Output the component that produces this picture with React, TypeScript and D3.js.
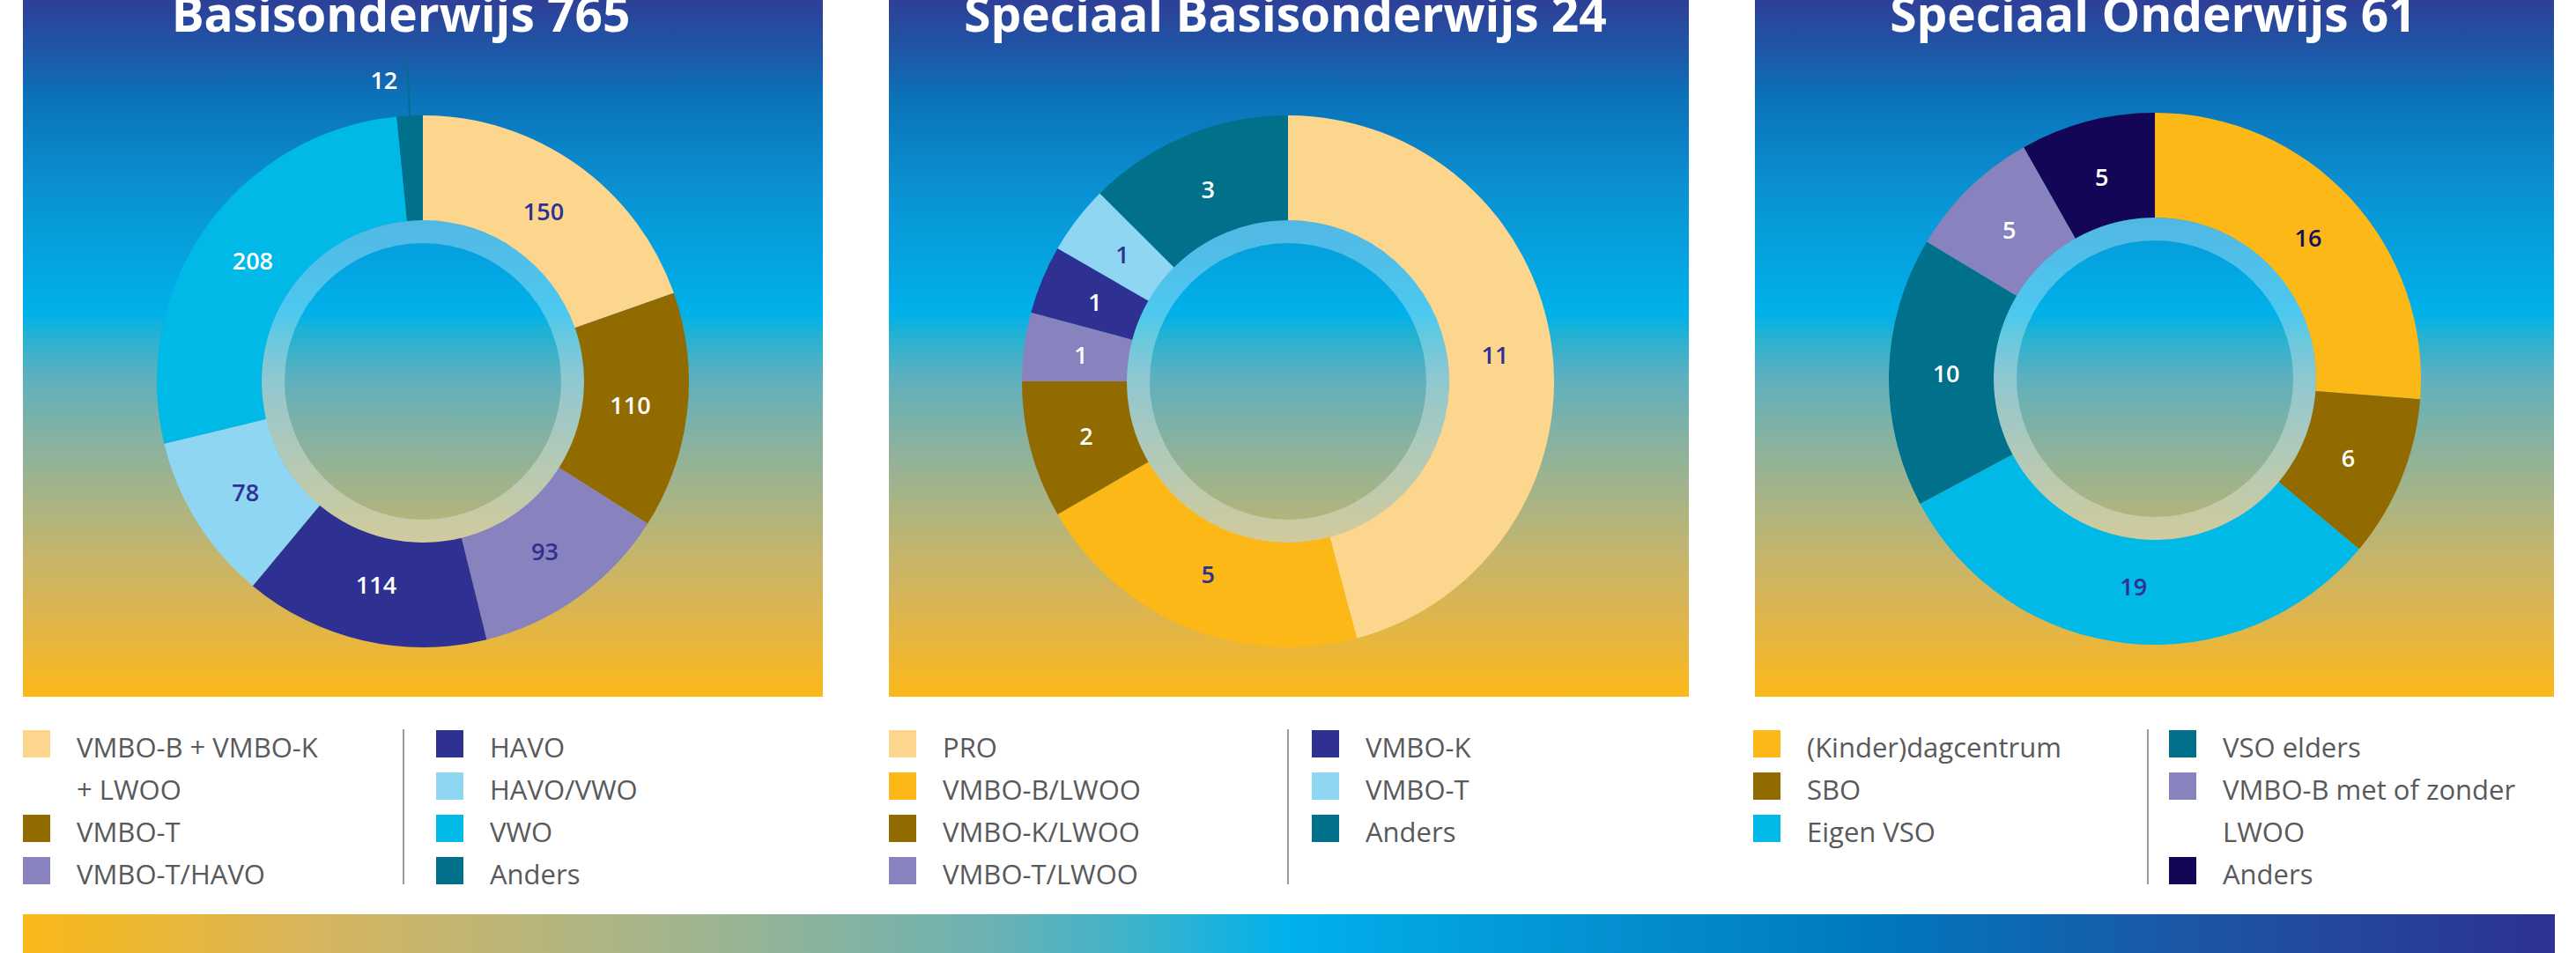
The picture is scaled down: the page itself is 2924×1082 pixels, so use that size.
import React from 'react';
import * as d3 from 'd3';

// ---------- DATA ----------
const basisTitle = 'Basisonderwijs 765';
const basisCategories = ['VMBO-B + VMBO-K + LWOO', 'VMBO-T', 'VMBO-T/HAVO', 'HAVO', 'HAVO/VWO', 'VWO', 'Anders'];
const basisValues = [150, 110, 93, 114, 78, 208, 12];
const basisLegend = [
  [['VMBO-B + VMBO-K', '+ LWOO'], ['VMBO-T'], ['VMBO-T/HAVO']],
  [['HAVO'], ['HAVO/VWO'], ['VWO'], ['Anders']],
];

const sboTitle = 'Speciaal Basisonderwijs 24';
const sboCategories = ['PRO', 'VMBO-B/LWOO', 'VMBO-K/LWOO', 'VMBO-T/LWOO', 'VMBO-K', 'VMBO-T', 'Anders'];
const sboValues = [11, 5, 2, 1, 1, 1, 3];
const sboLegend = [
  [['PRO'], ['VMBO-B/LWOO'], ['VMBO-K/LWOO'], ['VMBO-T/LWOO']],
  [['VMBO-K'], ['VMBO-T'], ['Anders']],
];

const soTitle = 'Speciaal Onderwijs 61';
const soCategories = ['(Kinder)dagcentrum', 'SBO', 'Eigen VSO', 'VSO elders', 'VMBO-B met of zonder LWOO', 'Anders'];
const soValues = [16, 6, 19, 10, 5, 5];
const soLegend = [
  [['(Kinder)dagcentrum'], ['SBO'], ['Eigen VSO']],
  [['VSO elders'], ['VMBO-B met of zonder', 'LWOO'], ['Anders']],
];

// ---------- STYLES ----------
const C = {
  lightOrange: '#fdd68e',
  brown: '#926b00',
  lavender: '#8882be',
  navy: '#2e3192',
  lightBlue: '#8fd6f2',
  cyan: '#00b9e7',
  teal: '#00708b',
  gold: '#fbb817',
  darkNavy: '#130656',
  white: '#ffffff',
};

const basisColors = [C.lightOrange, C.brown, C.lavender, C.navy, C.lightBlue, C.cyan, C.teal];
const basisInk = [C.navy, C.white, C.navy, C.white, C.navy, C.white, C.white];
const sboColors = [C.lightOrange, C.gold, C.brown, C.lavender, C.navy, C.lightBlue, C.teal];
const sboInk = [C.navy, C.navy, C.white, C.white, C.white, C.navy, C.white];
const soColors = [C.gold, C.brown, C.cyan, C.teal, C.lavender, C.darkNavy];
const soInk = ['#1a0f5c', C.white, C.navy, C.white, C.white, C.white];

const panelStops: [number, string][] = [
  [0, '#2e3f97'], [0.07, '#1f56a6'], [0.14, '#0b72b9'], [0.27, '#0a91d2'],
  [0.45, '#00b1ea'], [0.48, '#22b2d3'], [0.54, '#5db0bf'], [0.64, '#8bb29e'],
  [0.72, '#a9b484'], [0.8, '#c6b56b'], [0.88, '#dcb54f'], [0.96, '#f2b72c'], [1, '#fbb817'],
];
const barStops: [number, string][] = [
  [0, '#fbb817'], [0.12, '#d5b560'], [0.25, '#a6b58a'], [0.38, '#6db2b2'],
  [0.44, '#3cb3cc'], [0.5, '#00b1ec'], [0.6, '#0496d6'], [0.73, '#0078bf'],
  [0.86, '#1c55a4'], [1, '#2e3192'],
];

const W = 2924;
const H = 1082;
const PANEL_TOP = 0;
const PANEL_BOTTOM = 791;
const R_OUT = 302;
const R_IN = 183;
const R_RING = 157;
const R_LABEL = 237;

const panels = [
  { title: basisTitle, titleX: 455, x0: 26, x1: 934, cx: 480, cy: 433, categories: basisCategories, values: basisValues, colors: basisColors, ink: basisInk, legend: basisLegend, legendX: [26, 495], divX: 458 },
  { title: sboTitle, titleX: 1459, x0: 1009, x1: 1917, cx: 1462, cy: 433, categories: sboCategories, values: sboValues, colors: sboColors, ink: sboInk, legend: sboLegend, legendX: [1009, 1489], divX: 1462 },
  { title: soTitle, titleX: 2444, x0: 1992, x1: 2899, cx: 2446, cy: 430, categories: soCategories, values: soValues, colors: soColors, ink: soInk, legend: soLegend, legendX: [1990, 2462], divX: 2438 },
];

const FONT = "'Open Sans', 'Noto Sans', sans-serif";

function Donut({ p }: { p: typeof panels[number] }) {
  const pie = d3.pie<number>().sort(null).value((d) => d);
  const arcs = pie(p.values);
  const arc = d3.arc<d3.PieArcDatum<number>>().innerRadius(R_IN).outerRadius(R_OUT);
  const labelArc = d3.arc<d3.PieArcDatum<number>>().innerRadius(R_LABEL).outerRadius(R_LABEL);
  const ring = d3.arc()({ innerRadius: R_RING, outerRadius: R_IN, startAngle: 0, endAngle: 2 * Math.PI } as any) as string;
  const total = d3.sum(p.values);
  return (
    <g transform={`translate(${p.cx},${p.cy})`}>
      {arcs.map((a, i) => (
        <path key={i} d={arc(a) as string} fill={p.colors[i]} />
      ))}
      <path d={ring} fill="#ffffff" fillOpacity={0.3} />
      {arcs.map((a, i) => {
        const small = a.value / total < 0.03;
        if (small) {
          const mid = (a.startAngle + a.endAngle) / 2;
          const x1 = Math.sin(mid) * R_OUT;
          const y1 = -Math.cos(mid) * R_OUT;
          const x2 = Math.sin(mid) * 360;
          const y2 = -Math.cos(mid) * 360;
          return (
            <g key={'l' + i}>
              <line x1={x1} y1={y1} x2={x2} y2={y2} stroke={p.colors[i]} strokeWidth={2} />
              <text x={x2 - 11} y={y2 + 17} textAnchor="end" dominantBaseline="central" fill={p.ink[i]}
                fontFamily={FONT} fontSize={27} fontWeight={600}>{a.value}</text>
            </g>
          );
        }
        const [lx, ly] = labelArc.centroid(a);
        return (
          <text key={'l' + i} x={lx} y={ly} textAnchor="middle" dominantBaseline="central" fill={p.ink[i]}
            fontFamily={FONT} fontSize={27} fontWeight={600}>{a.value}</text>
        );
      })}
    </g>
  );
}

function Legend({ p }: { p: typeof panels[number] }) {
  const ROW0 = 829;
  const STEP = 48;
  const SW = 31;
  let catIndex = 0;
  const out: React.ReactNode[] = [];
  p.legend.forEach((col, ci) => {
    let row = 0;
    col.forEach((lines) => {
      const idx = catIndex++;
      const y = ROW0 + row * STEP;
      out.push(<rect key={`s${idx}`} x={p.legendX[ci]} y={y} width={SW} height={SW} fill={p.colors[idx]} />);
      lines.forEach((ln, li) => {
        out.push(
          <text key={`t${idx}-${li}`} x={p.legendX[ci] + 61} y={y + SW + li * STEP} fill="#58595b"
            fontFamily={FONT} fontSize={31}>{ln}</text>
        );
      });
      row += lines.length;
    });
  });
  out.push(<line key="div" x1={p.divX} x2={p.divX} y1={828} y2={1004} stroke="#9a9a9e" strokeWidth={2} />);
  return <g>{out}</g>;
}

export default function App() {
  return (
    <svg width={W} height={H} viewBox={`0 0 ${W} ${H}`}
      style={{ position: 'absolute', left: 0, top: 0, display: 'block', background: '#ffffff' }}>
      <defs>
        <linearGradient id="panelGrad" gradientUnits="userSpaceOnUse" x1={0} y1={PANEL_TOP} x2={0} y2={PANEL_BOTTOM}>
          {panelStops.map(([o, c], i) => <stop key={i} offset={o} stopColor={c} />)}
        </linearGradient>
        <linearGradient id="barGrad" gradientUnits="userSpaceOnUse" x1={26} y1={0} x2={2900} y2={0}>
          {barStops.map(([o, c], i) => <stop key={i} offset={o} stopColor={c} />)}
        </linearGradient>
      </defs>
      {panels.map((p, i) => (
        <g key={i}>
          <rect x={p.x0} y={PANEL_TOP} width={p.x1 - p.x0} height={PANEL_BOTTOM - PANEL_TOP} fill="url(#panelGrad)" />
          <text x={p.titleX} y={36} textAnchor="middle" fill="#ffffff" fontFamily={FONT} fontWeight={700} fontSize={55}>{p.title}</text>
          <Donut p={p} />
          <Legend p={p} />
        </g>
      ))}
      <rect x={26} y={1038} width={2900 - 26} height={H - 1038} fill="url(#barGrad)" />
    </svg>
  );
}
